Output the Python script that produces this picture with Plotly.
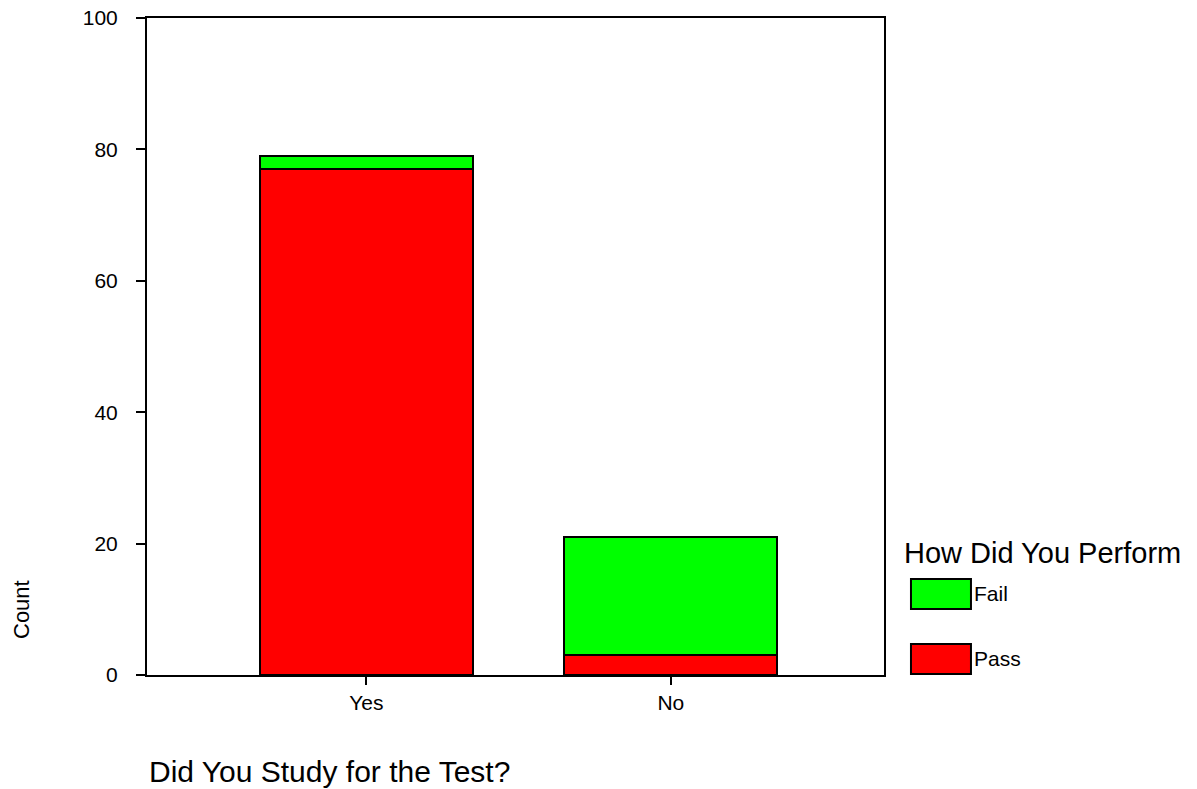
import plotly.graph_objects as go

categories = ["Yes", "No"]
pass_counts = [77, 3]
fail_counts = [2, 18]
y_ticks = [0, 20, 40, 60, 80, 100]
series_names = ["Pass", "Fail"]
colors = {"Pass": "#FF0000", "Fail": "#00FF00"}

FONT = "Liberation Sans, Arial, sans-serif"

fig = go.Figure()
for name, vals in zip(series_names, [pass_counts, fail_counts]):
    fig.add_trace(go.Bar(
        x=categories, y=vals, name=name,
        marker=dict(color=colors[name], line=dict(color="black", width=2)),
        width=0.7, showlegend=False,
    ))

fig.update_layout(
    barmode="stack",
    width=1197, height=789,
    margin=dict(l=147, r=313, t=18, b=114, autoexpand=False),
    plot_bgcolor="white", paper_bgcolor="white",
    font=dict(family=FONT, color="black", size=21),
    xaxis=dict(
        range=[-0.72, 1.70], showline=True, linecolor="black", linewidth=2,
        mirror=True, ticks="outside", ticklen=8, tickwidth=2, tickcolor="black",
        showgrid=False, tickfont=dict(size=21), automargin=False,
    ),
    yaxis=dict(
        range=[0, 100], tickvals=y_ticks, showline=True, linecolor="black",
        linewidth=2, mirror=True, ticks="outside", ticklen=9, tickwidth=2,
        tickcolor="black", showgrid=False, zeroline=False, tickfont=dict(size=21),
        automargin=False, ticklabelstandoff=14,
    ),
)

# axis titles
fig.add_annotation(text="Count", xref="paper", yref="paper", x=-0.17, y=0.1,
                   xanchor="center", yanchor="middle", textangle=-90,
                   showarrow=False, font=dict(size=22))
fig.add_annotation(text="Did You Study for the Test?", xref="paper", yref="paper",
                   x=0.0, y=-0.1476, xanchor="left", yanchor="middle",
                   showarrow=False, font=dict(size=30))

# custom legend
fig.add_annotation(text="How Did You Perform", xref="paper", yref="paper",
                   x=1.0244, y=0.1857, xanchor="left", yanchor="middle",
                   showarrow=False, font=dict(size=29))
legend_items = [("Fail", 0.1005, 0.1461, 0.1233), ("Pass", 0.0015, 0.0472, 0.0244)]
for name, y0, y1, yc in legend_items:
    fig.add_shape(type="rect", xref="paper", yref="paper",
                  x0=1.0366, x1=1.118, y0=y0, y1=y1,
                  fillcolor=colors[name], line=dict(color="black", width=2))
    fig.add_annotation(text=name, xref="paper", yref="paper", x=1.1195, y=yc,
                       xanchor="left", yanchor="middle", showarrow=False,
                       font=dict(size=21))

fig.write_html("out.html",
               config={"displayModeBar": False},
               post_script="document.body.style.margin='0';document.body.style.overflow='hidden';")
